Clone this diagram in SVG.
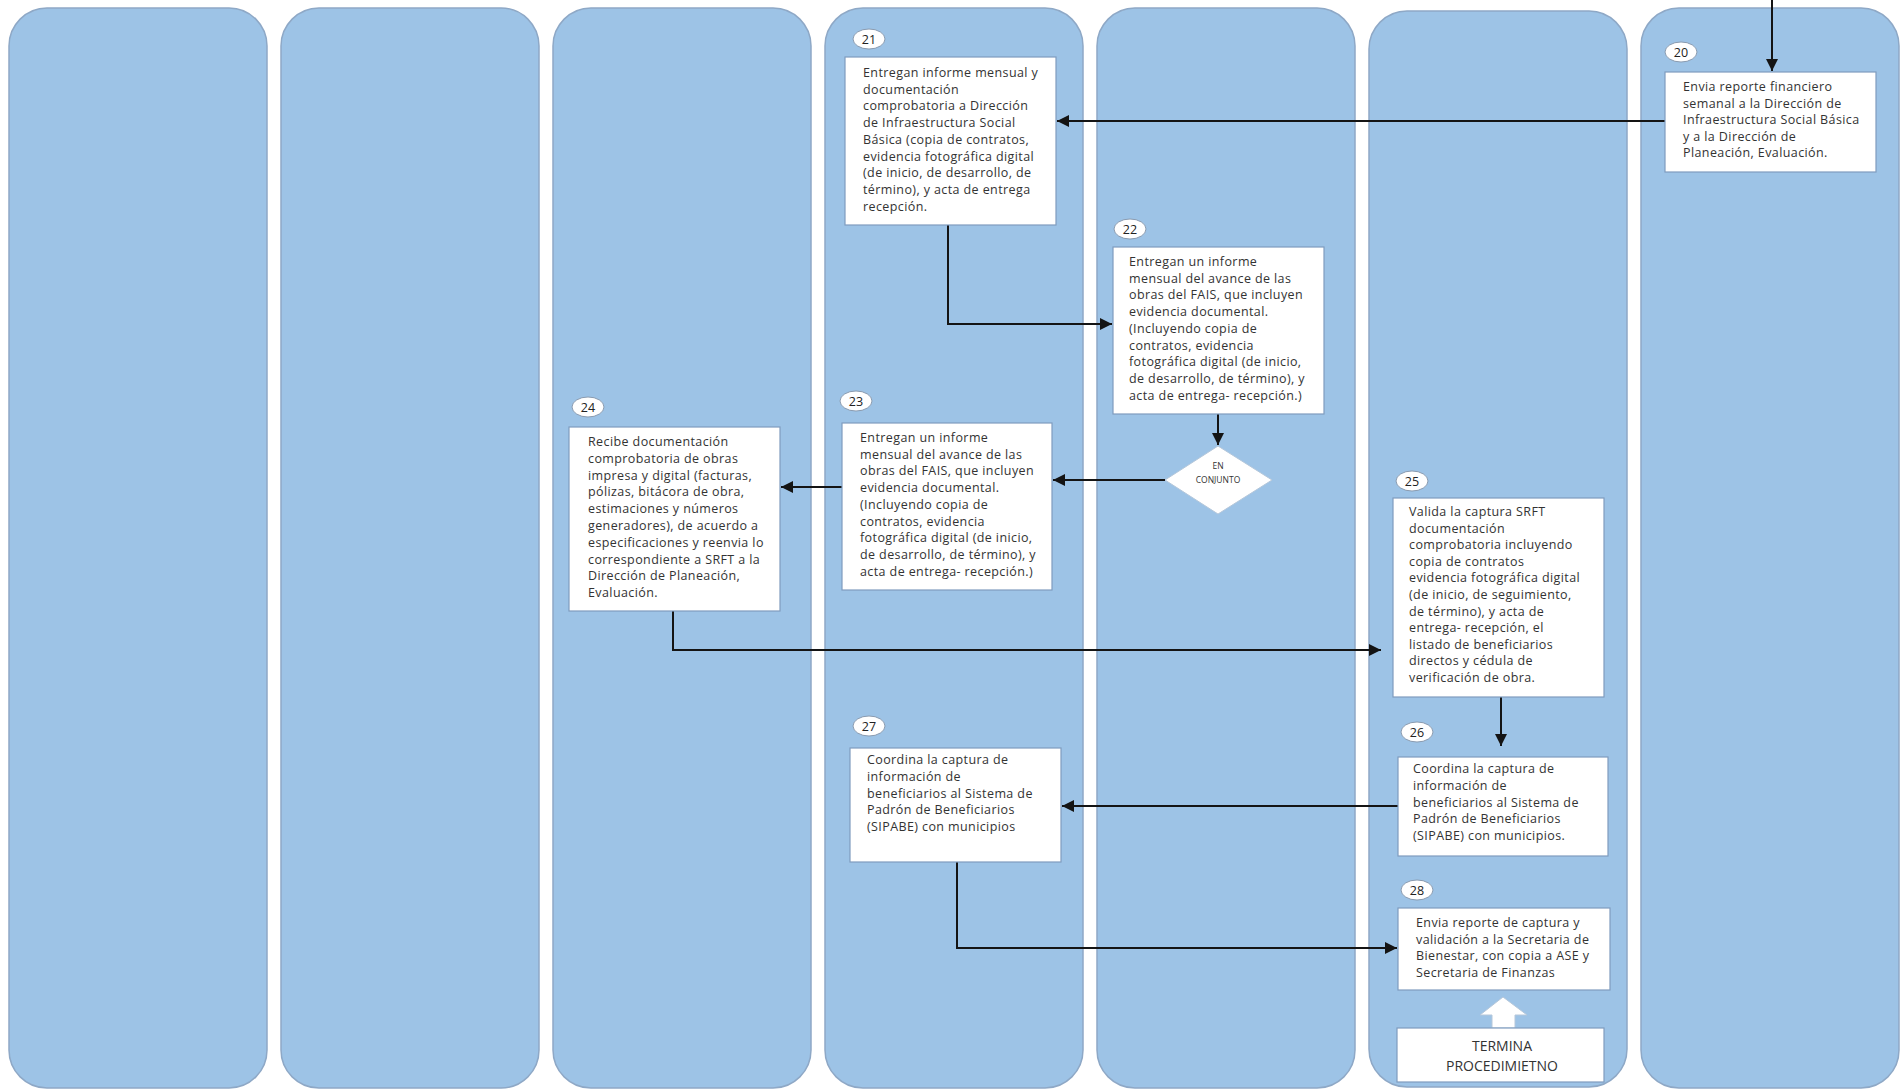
<svg xmlns="http://www.w3.org/2000/svg" width="1904" height="1091" viewBox="0 0 1904 1091">
<defs>
<style>
.lane{fill:#9DC3E6;stroke:#8EA8C6;stroke-width:1.5}
.box{fill:#FFFFFF;stroke:#7F9CBE;stroke-width:1.2}
.num{fill:#FFFFFF;stroke:#8A9BB0;stroke-width:1}
.t{font-family:"Open Sans","Liberation Sans",sans-serif;font-size:12.5px;letter-spacing:0.4px;fill:#333333}
.n{font-family:"Open Sans","Liberation Sans",sans-serif;font-size:12.5px;fill:#222222;text-anchor:middle}
.d{font-family:"Open Sans","Liberation Sans",sans-serif;font-size:8.5px;fill:#333333;text-anchor:middle}
.e{font-family:"Open Sans","Liberation Sans",sans-serif;font-size:14px;fill:#333333;text-anchor:middle}
.c{fill:none;stroke:#141414;stroke-width:2}
</style>
<marker id="ah" viewBox="0 0 10 10" refX="10" refY="5" markerWidth="6" markerHeight="6" markerUnits="strokeWidth" orient="auto">
<path d="M0,0 L10,5 L0,10 z" fill="#141414"/>
</marker>
</defs>
<rect width="1904" height="1091" fill="#FFFFFF"/>
<g id="lanes">
<rect class="lane" x="9" y="8" width="258" height="1080" rx="38"/>
<rect class="lane" x="281" y="8" width="258" height="1080" rx="38"/>
<rect class="lane" x="553" y="8" width="258" height="1080" rx="38"/>
<rect class="lane" x="825" y="8" width="258" height="1080" rx="38"/>
<rect class="lane" x="1097" y="8" width="258" height="1080" rx="38"/>
<rect class="lane" x="1369" y="11" width="258" height="1076" rx="38"/>
<rect class="lane" x="1641" y="8" width="258" height="1080" rx="38"/>
</g>
<g id="connectors">
<path class="c" d="M1772,0 V71" marker-end="url(#ah)"/>
<path class="c" d="M1665,121 H1057" marker-end="url(#ah)"/>
<path class="c" d="M948,225 V324 H1112" marker-end="url(#ah)"/>
<path class="c" d="M1218,414 V445" marker-end="url(#ah)"/>
<path class="c" d="M1165,480 H1053" marker-end="url(#ah)"/>
<path class="c" d="M842,487 H781" marker-end="url(#ah)"/>
<path class="c" d="M673,611 V650 H1381" marker-end="url(#ah)"/>
<path class="c" d="M1501,697 V746" marker-end="url(#ah)"/>
<path class="c" d="M1398,806 H1062" marker-end="url(#ah)"/>
<path class="c" d="M957,862 V948 H1397" marker-end="url(#ah)"/>
<polygon points="1503,997 1527,1015 1515,1015 1515,1028 1492,1028 1492,1015 1480,1015" fill="#FFFFFF" stroke="#B5C7DA" stroke-width="1"/>
</g>
<g id="n20">
<ellipse class="num" cx="1681" cy="52" rx="16" ry="10"/>
<text class="n" x="1681" y="56.5">20</text>
<rect class="box" x="1665" y="72" width="211" height="100"/>
<text class="t"><tspan x="1683" y="91">Envia reporte financiero</tspan><tspan x="1683" dy="16.6">semanal a la Dirección de</tspan><tspan x="1683" dy="16.6">Infraestructura Social Básica</tspan><tspan x="1683" dy="16.6">y a la Dirección de</tspan><tspan x="1683" dy="16.6">Planeación, Evaluación.</tspan></text>
</g>
<g id="n21">
<ellipse class="num" cx="869" cy="39" rx="16" ry="10"/>
<text class="n" x="869" y="43.5">21</text>
<rect class="box" x="845" y="57" width="211" height="168"/>
<text class="t"><tspan x="863" y="77">Entregan informe mensual y</tspan><tspan x="863" dy="16.7">documentación</tspan><tspan x="863" dy="16.7">comprobatoria a Dirección</tspan><tspan x="863" dy="16.7">de Infraestructura Social</tspan><tspan x="863" dy="16.7">Básica (copia de contratos,</tspan><tspan x="863" dy="16.7">evidencia fotográfica digital</tspan><tspan x="863" dy="16.7">(de inicio, de desarrollo, de</tspan><tspan x="863" dy="16.7">término), y acta de entrega</tspan><tspan x="863" dy="16.7">recepción.</tspan></text>
</g>
<g id="n22">
<ellipse class="num" cx="1130" cy="229" rx="16" ry="10"/>
<text class="n" x="1130" y="233.5">22</text>
<rect class="box" x="1113" y="247" width="211" height="167"/>
<text class="t"><tspan x="1129" y="266">Entregan un informe</tspan><tspan x="1129" dy="16.7">mensual del avance de las</tspan><tspan x="1129" dy="16.7">obras del FAIS, que incluyen</tspan><tspan x="1129" dy="16.7">evidencia documental.</tspan><tspan x="1129" dy="16.7">(Incluyendo copia de</tspan><tspan x="1129" dy="16.7">contratos, evidencia</tspan><tspan x="1129" dy="16.7">fotográfica digital (de inicio,</tspan><tspan x="1129" dy="16.7">de desarrollo, de término), y</tspan><tspan x="1129" dy="16.7">acta de entrega- recepción.)</tspan></text>
</g>
<g id="decision">
<polygon points="1218,446 1272,480 1218,514 1165,480" fill="#FFFFFF" stroke="#B5C7DA" stroke-width="1"/>
<text class="d" x="1218" y="469">EN</text>
<text class="d" x="1218" y="483">CONJUNTO</text>
</g>
<g id="n23">
<ellipse class="num" cx="856" cy="401" rx="16" ry="10"/>
<text class="n" x="856" y="405.5">23</text>
<rect class="box" x="842" y="423" width="210" height="167"/>
<text class="t"><tspan x="860" y="442">Entregan un informe</tspan><tspan x="860" dy="16.7">mensual del avance de las</tspan><tspan x="860" dy="16.7">obras del FAIS, que incluyen</tspan><tspan x="860" dy="16.7">evidencia documental.</tspan><tspan x="860" dy="16.7">(Incluyendo copia de</tspan><tspan x="860" dy="16.7">contratos, evidencia</tspan><tspan x="860" dy="16.7">fotográfica digital (de inicio,</tspan><tspan x="860" dy="16.7">de desarrollo, de término), y</tspan><tspan x="860" dy="16.7">acta de entrega- recepción.)</tspan></text>
</g>
<g id="n24">
<ellipse class="num" cx="588" cy="407" rx="16" ry="10"/>
<text class="n" x="588" y="411.5">24</text>
<rect class="box" x="569" y="427" width="211" height="184"/>
<text class="t"><tspan x="588" y="446">Recibe documentación</tspan><tspan x="588" dy="16.8">comprobatoria de obras</tspan><tspan x="588" dy="16.8">impresa y digital (facturas,</tspan><tspan x="588" dy="16.8">pólizas, bitácora de obra,</tspan><tspan x="588" dy="16.8">estimaciones y números</tspan><tspan x="588" dy="16.8">generadores), de acuerdo a</tspan><tspan x="588" dy="16.8">especificaciones y reenvia lo</tspan><tspan x="588" dy="16.8">correspondiente a SRFT a la</tspan><tspan x="588" dy="16.8">Dirección de Planeación,</tspan><tspan x="588" dy="16.8">Evaluación.</tspan></text>
</g>
<g id="n25">
<ellipse class="num" cx="1412" cy="481" rx="16" ry="10"/>
<text class="n" x="1412" y="485.5">25</text>
<rect class="box" x="1393" y="498" width="211" height="199"/>
<text class="t"><tspan x="1409" y="516">Valida la captura SRFT</tspan><tspan x="1409" dy="16.6">documentación</tspan><tspan x="1409" dy="16.6">comprobatoria incluyendo</tspan><tspan x="1409" dy="16.6">copia de contratos</tspan><tspan x="1409" dy="16.6">evidencia fotográfica digital</tspan><tspan x="1409" dy="16.6">(de inicio, de seguimiento,</tspan><tspan x="1409" dy="16.6">de término), y acta de</tspan><tspan x="1409" dy="16.6">entrega- recepción, el</tspan><tspan x="1409" dy="16.6">listado de beneficiarios</tspan><tspan x="1409" dy="16.6">directos y cédula de</tspan><tspan x="1409" dy="16.6">verificación de obra.</tspan></text>
</g>
<g id="n26">
<ellipse class="num" cx="1417" cy="732" rx="16" ry="10"/>
<text class="n" x="1417" y="736.5">26</text>
<rect class="box" x="1398" y="757" width="210" height="99"/>
<text class="t"><tspan x="1413" y="773">Coordina la captura de</tspan><tspan x="1413" dy="16.8">información  de</tspan><tspan x="1413" dy="16.8">beneficiarios al Sistema de</tspan><tspan x="1413" dy="16.8">Padrón de Beneficiarios</tspan><tspan x="1413" dy="16.8">(SIPABE) con  municipios.</tspan></text>
</g>
<g id="n27">
<ellipse class="num" cx="869" cy="726" rx="16" ry="10"/>
<text class="n" x="869" y="730.5">27</text>
<rect class="box" x="850" y="748" width="211" height="114"/>
<text class="t"><tspan x="867" y="764">Coordina la captura de</tspan><tspan x="867" dy="16.8">información  de</tspan><tspan x="867" dy="16.8">beneficiarios al Sistema de</tspan><tspan x="867" dy="16.8">Padrón de Beneficiarios</tspan><tspan x="867" dy="16.8">(SIPABE) con  municipios</tspan></text>
</g>
<g id="n28">
<ellipse class="num" cx="1417" cy="890" rx="16" ry="10"/>
<text class="n" x="1417" y="894.5">28</text>
<rect class="box" x="1398" y="908" width="212" height="82"/>
<text class="t"><tspan x="1416" y="927">Envia reporte de captura y</tspan><tspan x="1416" dy="16.6">validación a la Secretaria de</tspan><tspan x="1416" dy="16.6">Bienestar, con copia a ASE y</tspan><tspan x="1416" dy="16.6">Secretaria de Finanzas</tspan></text>
</g>
<g id="end">
<rect class="box" x="1397" y="1028" width="207" height="54"/>
<text class="e" x="1502" y="1051">TERMINA</text>
<text class="e" x="1502" y="1071">PROCEDIMIETNO</text>
</g>
</svg>
